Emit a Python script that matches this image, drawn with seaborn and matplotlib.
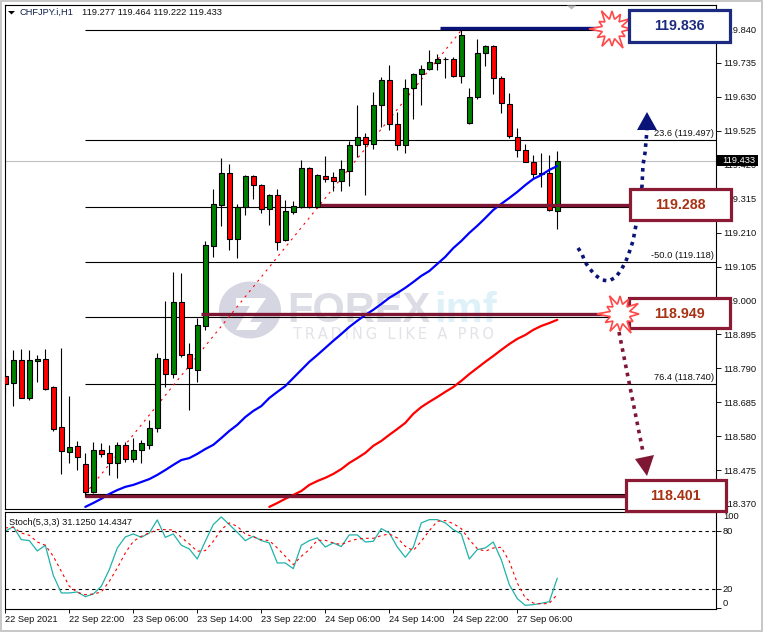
import numpy as np
import pandas as pd
import seaborn as sns
import matplotlib
matplotlib.use("Agg")
import matplotlib.pyplot as plt
from matplotlib.patches import Ellipse, Polygon, Rectangle

# --- H1 candles ---
opens = [118.766, 118.745, 118.816, 118.698, 118.813, 118.819, 118.732, 118.608, 118.531, 118.550,
         118.494, 118.407, 118.537, 118.528, 118.497, 118.553, 118.509, 118.537, 118.553, 118.605,
         118.819, 118.772, 118.995, 118.834, 118.785, 118.921, 119.169, 119.296, 119.395, 119.190,
         119.289, 119.385, 119.357, 119.283, 119.326, 119.187, 119.274, 119.289, 119.410, 119.289,
         119.385, 119.382, 119.370, 119.401, 119.481, 119.506, 119.484, 119.605, 119.682, 119.546,
         119.481, 119.658, 119.701, 119.716, 119.735, 119.747, 119.747, 119.695, 119.549, 119.630,
         119.766, 119.788, 119.689, 119.608, 119.506, 119.466, 119.429, 119.391, 119.395, 119.277]
highs = [118.822, 118.847, 118.850, 118.847, 118.831, 118.850, 118.735, 118.853, 118.704, 118.565,
         118.528, 118.562, 118.559, 118.553, 118.562, 118.562, 118.574, 118.568, 118.630, 118.837,
         118.998, 119.088, 119.085, 118.868, 118.946, 119.184, 119.345, 119.441, 119.422, 119.299,
         119.388, 119.388, 119.360, 119.329, 119.345, 119.311, 119.308, 119.435, 119.412, 119.390,
         119.447, 119.398, 119.435, 119.494, 119.605, 119.518, 119.645, 119.692, 119.729, 119.583,
         119.686, 119.704, 119.729, 119.775, 119.763, 119.754, 119.754, 119.840, 119.658, 119.809,
         119.791, 119.790, 119.695, 119.642, 119.534, 119.484, 119.450, 119.456, 119.450, 119.464]
lows = [118.714, 118.673, 118.698, 118.692, 118.748, 118.723, 118.596, 118.463, 118.497, 118.475,
        118.392, 118.404, 118.516, 118.460, 118.451, 118.500, 118.500, 118.497, 118.540, 118.593,
        118.732, 118.760, 118.825, 118.661, 118.748, 118.909, 119.135, 119.231, 119.156, 119.131,
        119.265, 119.314, 119.271, 119.234, 119.156, 119.184, 119.268, 119.286, 119.286, 119.286,
        119.367, 119.339, 119.339, 119.354, 119.444, 119.326, 119.469, 119.537, 119.528, 119.466,
        119.456, 119.562, 119.605, 119.713, 119.713, 119.689, 119.692, 119.673, 119.547, 119.624,
        119.726, 119.639, 119.580, 119.503, 119.444, 119.427, 119.379, 119.351, 119.278, 119.222]
closes = [118.742, 118.816, 118.698, 118.816, 118.819, 118.726, 118.602, 118.534, 118.547, 118.516,
          118.407, 118.537, 118.525, 118.497, 118.553, 118.509, 118.537, 118.559, 118.605, 118.822,
          118.772, 118.995, 118.831, 118.791, 118.924, 119.172, 119.299, 119.395, 119.190, 119.289,
          119.385, 119.357, 119.283, 119.326, 119.181, 119.277, 119.292, 119.410, 119.289, 119.388,
          119.376, 119.370, 119.407, 119.481, 119.506, 119.484, 119.605, 119.682, 119.546, 119.481,
          119.658, 119.701, 119.716, 119.738, 119.747, 119.748, 119.695, 119.822, 119.630, 119.766,
          119.788, 119.689, 119.611, 119.509, 119.466, 119.429, 119.391, 119.395, 119.280, 119.433]

# moving averages, the first bars are below the visible range
blue_ma = [np.nan] * 10 + [118.361, 118.373, 118.386, 118.401, 118.413, 118.423, 118.429, 118.438, 118.447, 118.460,
           118.475, 118.491, 118.506, 118.512, 118.525, 118.540, 118.553, 118.574, 118.596, 118.615,
           118.639, 118.658, 118.673, 118.698, 118.717, 118.735, 118.760, 118.785, 118.810, 118.831,
           118.853, 118.875, 118.896, 118.918, 118.937, 118.955, 118.971, 118.989, 119.008, 119.023,
           119.039, 119.057, 119.076, 119.091, 119.113, 119.135, 119.162, 119.184, 119.209, 119.231,
           119.255, 119.280, 119.299, 119.317, 119.336, 119.357, 119.376, 119.388, 119.404, 119.416]
red_ma = [np.nan] * 33 + [118.361, 118.373, 118.386, 118.398, 118.410, 118.429, 118.441, 118.451, 118.463, 118.478,
          118.497, 118.512, 118.528, 118.550, 118.565, 118.584, 118.602, 118.621, 118.649, 118.670,
          118.686, 118.701, 118.717, 118.732, 118.751, 118.772, 118.791, 118.810, 118.828, 118.847,
          118.865, 118.881, 118.893, 118.909, 118.921, 118.930, 118.940]

# stochastic
stoch_main = [79.7, 84.5, 71.0, 70.0, 59.3, 65.2, 34.1, 15.9, 15.9, 16.9, 12.1, 14.8, 22.8, 40.0, 62.4, 73.8, 76.9, 73.4,
              77.9, 91.4, 73.4, 76.9, 65.2, 61.4, 51.0, 69.3, 86.6, 94.5, 86.6, 78.6, 70.0, 74.5, 70.0, 67.6, 46.9, 46.9,
              41.0, 65.2, 70.0, 72.8, 63.4, 67.6, 63.8, 75.9, 75.9, 68.6, 69.3, 82.4, 77.9, 63.4, 52.8, 63.1, 88.3, 91.7,
              91.7, 88.3, 81.4, 76.9, 51.0, 60.7, 62.4, 68.6, 50.3, 24.5, 10.0, 3.1, 3.8, 5.2, 6.9, 31.125]
stoch_signal = [83.1, 83.8, 77.9, 75.5, 68.6, 65.2, 53.8, 38.3, 22.8, 16.6, 14.1, 14.8, 16.9, 27.9, 41.7, 57.2, 69.3, 74.5,
                77.9, 81.4, 81.4, 81.0, 73.4, 66.6, 59.0, 59.7, 69.3, 81.4, 88.3, 84.8, 76.9, 73.8, 71.0, 70.0, 62.4, 53.8,
                45.2, 53.8, 60.7, 70.3, 70.3, 67.6, 65.9, 69.3, 71.7, 72.4, 72.4, 75.2, 76.9, 72.8, 64.1, 59.7, 69.3, 80.3,
                90.0, 90.7, 87.6, 82.4, 71.0, 61.7, 59.0, 62.4, 63.1, 48.6, 26.2, 10.7, 5.5, 4.5, 5.2, 14.4347]

date_labels = ["22 Sep 2021", "22 Sep 22:00", "23 Sep 06:00", "23 Sep 14:00", "23 Sep 22:00",
               "24 Sep 06:00", "24 Sep 14:00", "24 Sep 22:00", "27 Sep 06:00"]
header = "119.277 119.464 119.222 119.433"

# fibonacci levels and marked prices
fib_levels = [119.836, 119.497, 119.288, 119.118, 118.949, 118.740, 118.401]
fib_texts = ["23.6 (119.497)", "-50.0 (119.118)", "76.4 (118.740)"]
fib_text_prices = [119.497, 119.118, 118.740]
last_price = 119.433

NAVY = "#0a1478"
WINE = "#7f1734"
BOX_RED = "#8b1a35"
TXT_RED = "#a83214"

W, H = 763, 632
sns.set_style("white")
plt.rcParams["font.family"] = ["Liberation Sans", "DejaVu Sans"]
plt.rcParams["font.size"] = 6.7
plt.rcParams["text.color"] = "#111111"

df = pd.DataFrame({"bar": np.arange(len(opens)), "open": opens, "high": highs, "low": lows, "close": closes,
                   "blue": blue_ma, "red": red_ma, "main": stoch_main, "signal": stoch_signal})
up = df["close"] >= df["open"]

fig = plt.figure(figsize=(W / 100, H / 100), dpi=100, facecolor="white")


def pixel_axes(zorder):
    a = fig.add_axes([0, 0, 1, 1], zorder=zorder, facecolor="none")
    a.set_xlim(0, W)
    a.set_ylim(H, 0)
    a.axis("off")
    return a


back = pixel_axes(0)
ax = fig.add_axes([4.5 / W, 1 - 508.5 / H, 711.5 / W, 504 / H], zorder=1, facecolor="none")
sax = fig.add_axes([4.5 / W, 1 - 609 / H, 711.5 / W, 97.5 / H], zorder=1, facecolor="none")
front = pixel_axes(2)

# window frame
for r in [(0, 0, 2, H), (0, 0, W, 1.5), (0, 630, W, 2), (761, 0, 2, H)]:
    back.add_patch(Rectangle((r[0], r[1]), r[2], r[3], color="#c8c8c8", lw=0))

# watermark
back.add_patch(Ellipse((250, 310), 62, 57, color="#d6d6e2", lw=0))
back.add_patch(Polygon([(236, 298), (266, 298), (250, 322), (262, 322), (256, 330), (236, 330), (250, 306), (236, 306)],
                       color="white", lw=0))
back.text(287, 322, "FOREX", fontsize=30, fontweight="bold", color="#dcdce5", va="baseline")
back.text(434, 322, "imf", fontsize=30, fontweight="bold", color="#def1f9", va="baseline")
# thin spaces between the letters, matplotlib has no tracking
back.text(293, 339, "\u2009".join("TRADING LIKE A PRO"), fontsize=10.5, family="DejaVu Sans", color="#e2e2e8",
          va="baseline")

# price panel
x_lim = (-0.1, 88.84)
ax.set_xlim(*x_lim)
ax.set_ylim(118.356, 119.916)
ax.hlines(last_price, *x_lim, color="#c0c0c0", lw=0.8, zorder=1)
ax.hlines(fib_levels, 10, x_lim[1], color="black", lw=0.8, zorder=1)
ax.plot([10, 57], [118.401, 119.836], color="red", lw=0.8, ls=(0, (2, 4)), zorder=2)

ax.vlines(df["bar"], df["low"], df["high"], color="black", lw=0.8, zorder=3)
ax.bar(df["bar"], (df["close"] - df["open"]).abs(), bottom=df[["open", "close"]].min(axis=1), width=0.6,
       color=np.where(up, "#008000", "#ff0000"), edgecolor="black", lw=0.8, zorder=4)

sns.lineplot(data=df, x="bar", y="blue", color="#0000ff", lw=1.6, errorbar=None, ax=ax, zorder=5)
sns.lineplot(data=df, x="bar", y="red", color="#ff0000", lw=1.6, errorbar=None, ax=ax, zorder=5)

# hand drawn levels
ax.hlines(119.843, 54.3, 74.3, color=NAVY, lw=2.4, zorder=6)
ax.hlines(119.294, 39.3, 78, color=WINE, lw=2.4, zorder=6)
ax.hlines(118.958, 24.5, 75.6, color=WINE, lw=2.4, zorder=6)
ax.hlines(118.395, 10, 77.5, color=WINE, lw=2.4, zorder=6)

for txt, price in zip(fib_texts, fib_text_prices):
    ax.text(88.6, price + 0.006, txt, ha="right", va="bottom", fontsize=6.7, zorder=6)

price_ticks = 118.370 + 0.105 * np.arange(15)
ax.set_xticks([])
ax.yaxis.tick_right()
ax.set_yticks(price_ticks)
ax.set_yticklabels([f"{t:.3f}" for t in price_ticks])
ax.tick_params(axis="y", right=True, length=3.5, width=0.7, pad=1.5, labelsize=6.7, colors="#111111")
ax.set_xlabel("")
ax.set_ylabel("")

# stochastic panel
sax.set_xlim(*x_lim)
sax.set_ylim(-0.7, 100.1)
sax.hlines([80, 20], *x_lim, color="black", lw=0.8, ls=(0, (3, 3)))
sns.lineplot(data=df, x="bar", y="main", color="#20b2aa", lw=0.9, errorbar=None, ax=sax)
sns.lineplot(data=df, x="bar", y="signal", color="#ff0000", lw=0.8, ls=(0, (2.5, 3)), errorbar=None, ax=sax)
sax.text(0.006, 0.93, "Stoch(5,3,3) 31.1250 14.4347", transform=sax.transAxes, va="top", fontsize=6.7)
sax.yaxis.tick_right()
sax.set_yticks([0, 20, 80, 100])
sax.set_yticklabels(["0", "20", "80", "100"])
labels = sax.get_yticklabels()
labels[0].set_va("bottom")
labels[3].set_va("top")
sax.set_xticks(np.arange(len(date_labels)) * 8)
sax.set_xticklabels(date_labels, ha="left")
sax.tick_params(axis="y", right=True, length=3.5, width=0.7, pad=1.5, labelsize=6.7, colors="#111111")
sax.tick_params(axis="x", bottom=True, length=3, width=0.7, pad=1, labelsize=6.7, colors="#111111")
sax.set_xlabel("")
sax.set_ylabel("")

for a in (ax, sax):
    for s in a.spines.values():
        s.set_visible(True)
        s.set_color("black")
        s.set_linewidth(0.8)

# header
front.add_patch(Polygon([(8, 11), (15, 11), (11.5, 14.5)], color="black", lw=0))
front.text(20, 12.5, "CHFJPY.i,H1", color="#10204a", fontsize=6.7, va="center")
front.text(82, 12.5, header, color="#111111", fontsize=6.7, va="center")
front.add_patch(Polygon([(567, 5.5), (576, 5.5), (571.5, 9.5)], color="#b8b8b8", lw=0))

# bid label
front.add_patch(Rectangle((717, 155), 41, 11, color="black", lw=0))
front.text(722, 160.7, f"{last_price:.3f}", color="white", fontsize=6.7, va="center")

# dotted arrows
front.plot([578, 582, 585, 590, 595, 602, 609, 616, 621, 625, 628, 633, 636, 642, 643, 645, 647],
           [248, 254, 262, 269, 275, 280, 281, 277, 270, 263, 256, 241, 225, 186, 165, 153, 130],
           color=NAVY, lw=2.6, ls=(0, (1, 1.3)), zorder=1)
front.add_patch(Polygon([(647, 112), (637, 130), (657, 130)], color=NAVY, lw=0, zorder=1))
front.plot([619, 643], [332, 452], color=WINE, lw=2.6, ls=(0, (1, 1.3)), zorder=1)
front.add_patch(Polygon([(647, 476), (635, 459), (654, 455)], color=WINE, lw=0, zorder=1))


def star(cx, cy, zo):
    outer = [19, 15, 22, 17, 20, 17, 23, 15, 21, 18, 17, 21]
    pts = []
    for i, r in enumerate(outer):
        t = 2 * np.pi * i / len(outer)
        pts.append((cx + r * np.cos(t), cy + r * np.sin(t)))
        t2 = t + np.pi / len(outer)
        pts.append((cx + 10 * np.cos(t2), cy + 10 * np.sin(t2)))
    front.add_patch(Polygon(pts, facecolor="white", edgecolor="#ff4848", lw=1.2, zorder=zo))


star(612, 29, 2)


def callout(x0, y0, x1, y1, txt, edge, color):
    front.add_patch(Rectangle((x0, y0), x1 - x0, y1 - y0, facecolor="white", edgecolor=edge, lw=2.3, zorder=3))
    front.text((x0 + x1) / 2, (y0 + y1) / 2 + 0.5, txt, color=color, fontsize=10.2, fontweight="bold",
               ha="center", va="center", zorder=4)


callout(629, 10, 729.5, 42, "119.836", "#1c2a80", "#1c2a80")
callout(630, 189, 731, 220, "119.288", BOX_RED, TXT_RED)
callout(629, 298, 729.5, 328, "118.949", BOX_RED, TXT_RED)
callout(626, 480, 725.5, 511, "118.401", BOX_RED, TXT_RED)
star(620, 314, 5)

plt.savefig("out.png", dpi=100)
